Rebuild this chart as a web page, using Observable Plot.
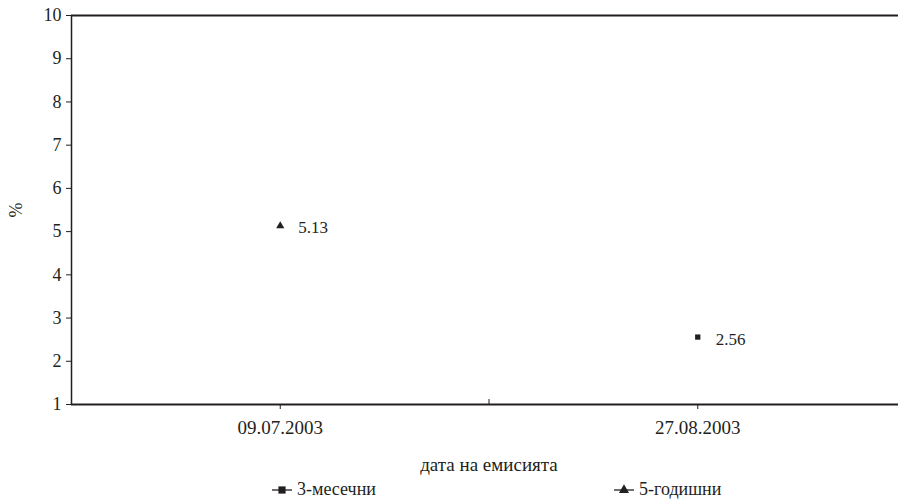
<!DOCTYPE html>
<html><head><meta charset="utf-8">
<script src="https://cdn.jsdelivr.net/npm/d3@7"></script>
<script src="https://cdn.jsdelivr.net/npm/@observablehq/plot@0.6"></script>
<style>
body{margin:0;background:#fff;font-family:"Liberation Serif","Times New Roman",Times,"DejaVu Serif",serif;}
#chart svg{display:block;}
#chart svg, #chart svg text{font-family:"Liberation Serif","Times New Roman",Times,"DejaVu Serif",serif !important;}
#legend{position:relative;height:26px;width:898px;font-size:18px;color:#231f20;}
.item{position:absolute;top:4px;display:flex;align-items:center;gap:5px;}
</style></head><body>
<div id="chart"></div>
<div id="legend"></div>
<script>
const dates = ["09.07.2003", "27.08.2003"];
const seriesNames = ["3-месечни", "5-годишни"];
const seriesSymbols = ["square", "triangle"];
const threeMonth = [null, 2.56];
const fiveYear = [5.13, null];
const yTicks = [1, 2, 3, 4, 5, 6, 7, 8, 9, 10];
const xLabel = "дата на емисията";
const yLabel = "%";

const seriesValues = [threeMonth, fiveYear];
const rows = [];
seriesValues.forEach((vals, s) => vals.forEach((v, i) => {
  if (v != null) rows.push({i, value: v, series: seriesNames[s], symbol: seriesSymbols[s]});
}));
const xIdx = dates.map((d, i) => i);
const bounds = d3.range(dates.length + 1).map(i => i - 0.5);
const yMin = d3.min(yTicks), yMax = d3.max(yTicks);
const ink = "#231f20";
const serif = "'Liberation Serif', 'Times New Roman', Times, 'DejaVu Serif', serif";

const chart = Plot.plot({
  width: 898,
  height: 475,
  marginLeft: 71,
  marginRight: -8,
  marginTop: 15,
  marginBottom: 71,
  style: {fontFamily: serif, fontSize: "17px", color: ink, background: "#fff"},
  x: {type: "linear", domain: [bounds[0], bounds[bounds.length - 1]]},
  y: {domain: [yMin, yMax]},
  symbol: {domain: seriesNames, range: seriesSymbols},
  marks: [
    Plot.ruleY([yMin, yMax], {stroke: ink, strokeWidth: 2}),
    Plot.ruleX([bounds[0]], {stroke: ink, strokeWidth: 1.5}),
    Plot.axisY({ticks: yTicks, tickSize: 5, tickPadding: 5, fontSize: 18, tickFormat: d => d,
      label: yLabel, labelAnchor: "center", labelArrow: "none", labelOffset: 62, stroke: ink}),
    Plot.axisX({ticks: xIdx, tickSize: 5, tickPadding: 11, fontSize: 19, tickFormat: i => dates[i],
      label: xLabel, labelAnchor: "center", labelArrow: "none", labelOffset: 66, stroke: ink}),
    Plot.axisX({ticks: bounds.slice(1, -1), tickSize: -5, tickFormat: () => "", label: null, stroke: ink}),
    Plot.dot(rows, {x: "i", y: "value", symbol: "series", fill: ink, stroke: "none", r: d => d.symbol === "square" ? 5 : 5.2}),
    Plot.text(rows, {x: "i", y: "value", text: d => d.value.toFixed(2), dx: 18, dy: 2, textAnchor: "start", fill: ink, fontSize: 17})
  ]
});
document.getElementById("chart").appendChild(chart);

// legend
const legend = d3.select("#legend");
const legendX = [272, 614];
seriesNames.forEach((name, s) => {
  const item = legend.append("div").attr("class", "item").style("left", legendX[s] + "px");
  const svg = item.append("svg").attr("width", 20).attr("height", 12);
  svg.append("line").attr("x1", 0).attr("x2", 20).attr("y1", 6).attr("y2", 6).attr("stroke", ink).attr("stroke-width", 1.3);
  const sym = seriesSymbols[s] === "square" ? d3.symbolSquare : d3.symbolTriangle;
  svg.append("path").attr("d", d3.symbol(sym, seriesSymbols[s] === "square" ? 52 : 44)()).attr("transform", "translate(10,6)").attr("fill", ink);
  item.append("span").text(name);
});
</script>
</body></html>
